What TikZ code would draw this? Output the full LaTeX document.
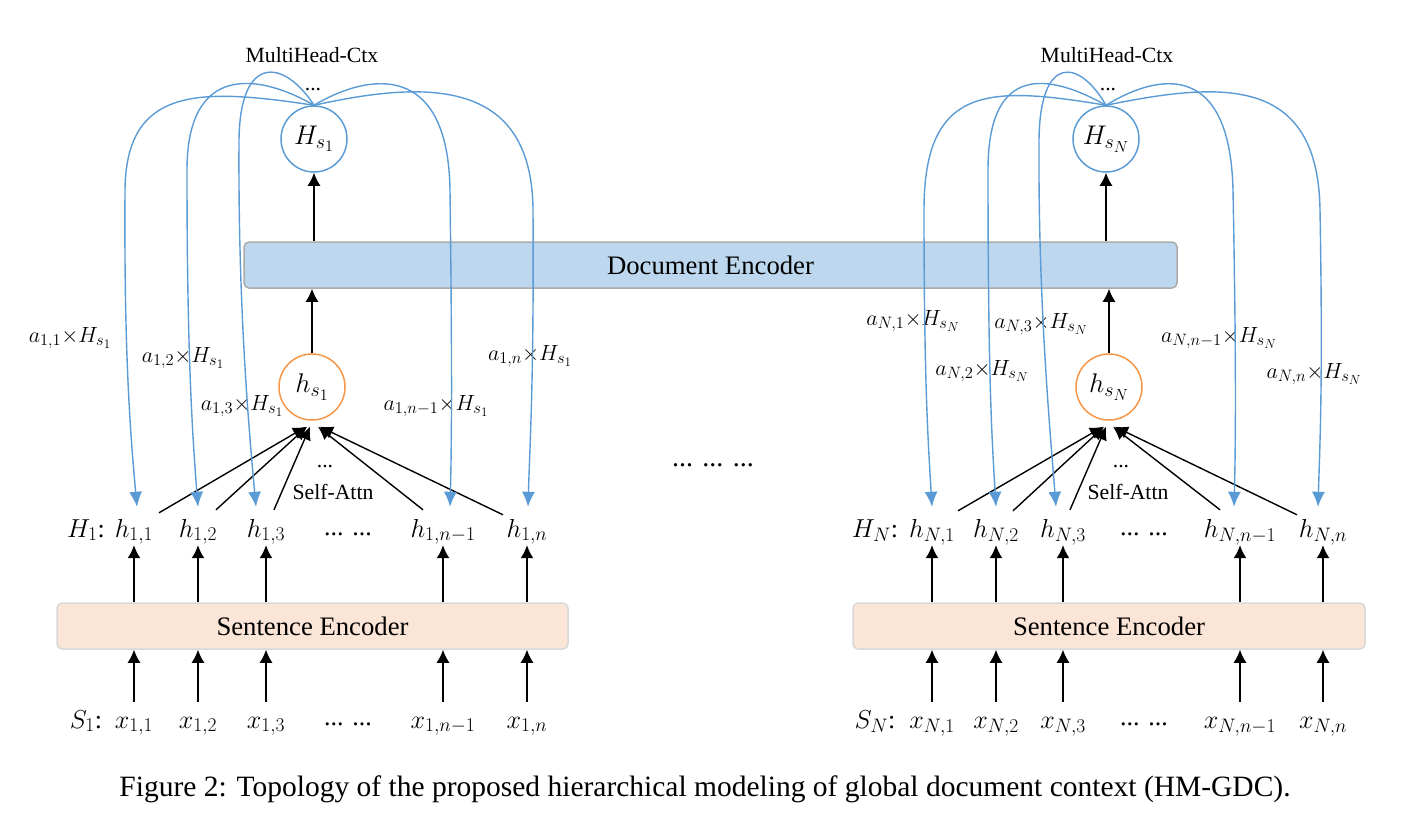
\documentclass[tikz,border=0pt]{standalone}
\usepackage{fix-cm}
\usepackage{fontspec}
\setmainfont{Liberation Serif}
\usetikzlibrary{arrows.meta,calc}
\DeclareMathSizes{26}{26}{19.5}{15}
\DeclareMathSizes{27}{27}{20}{16}
\DeclareMathSizes{22}{22}{16.5}{13}
\definecolor{curveblue}{HTML}{5B9BD5}
\definecolor{docfill}{HTML}{BDD7EE}
\definecolor{sentfill}{HTML}{FBE5D6}
\definecolor{hsorange}{HTML}{F79646}
\definecolor{boxgray}{HTML}{ABABAB}
\definecolor{boxlight}{HTML}{D9D9D9}
\tikzset{
  smalltxt/.style={inner sep=0pt, font=\rmfamily\fontsize{21.7}{25}\selectfont},
  hlab/.style={inner sep=0pt, anchor=base, text height=18pt, text depth=8pt, font=\fontsize{26}{30}\selectfont},
  xlab/.style={inner sep=0pt, anchor=base, text height=26pt, text depth=8pt, font=\fontsize{26}{30}\selectfont},
  alab/.style={inner sep=0pt, anchor=base, font=\fontsize{22}{26}\selectfont},
  dotlab/.style={inner sep=0pt, anchor=base, font=\rmfamily\fontsize{26}{30}\selectfont},
  blkarrow/.style={-{Latex[length=13pt,width=13pt]}, line width=1.4pt, black},
  bluearrow/.style={-{Latex[length=15pt,width=13pt]}, line width=1.4pt, curveblue},
  encbox/.style={rounded corners=5pt, line width=1.5pt, minimum height=46pt, inner sep=0pt,
                 font=\rmfamily\fontsize{26.7}{30}\selectfont},
  bigcirc/.style={circle, minimum size=66pt, inner sep=0pt, line width=1.5pt,
                  font=\fontsize{27}{30}\selectfont}
}
\begin{document}
\begin{tikzpicture}[x=1pt,y=-1pt]
\useasboundingbox (0,0) rectangle (1411,820);

% ---------------- boxes ----------------
\node[encbox, draw=boxgray, fill=docfill, minimum width=933pt] (doc) at (710.5,265) {Document Encoder};
\node[encbox, draw=boxlight, fill=sentfill, minimum width=511pt] (sentL) at (312.5,626) {Sentence Encoder};
\node[encbox, draw=boxlight, fill=sentfill, minimum width=512pt] (sentR) at (1109,626) {Sentence Encoder};

% ---------------- circles ----------------
\node[bigcirc, draw=curveblue] (Hs1) at (314,139) {$H_{s_1}$};
\node[bigcirc, draw=hsorange] (hs1) at (312,387) {$h_{s_1}$};
\node[bigcirc, draw=curveblue] (HsN) at (1106,139) {$H_{s_N}$};
\node[bigcirc, draw=hsorange] (hsN) at (1109,387) {$h_{s_N}$};

% ---------------- top labels ----------------
\node[smalltxt] (mhL) at (312,55) {MultiHead-Ctx};
\node[smalltxt, anchor=base] (mhdL) at (313,90) {...};
\node[smalltxt] (mhR) at (1107,55) {MultiHead-Ctx};
\node[smalltxt, anchor=base] (mhdR) at (1108,90) {...};

% ---------------- left rows ----------------
\node[hlab] (HL) at (86,537) {$H_1$:};
\node[hlab] (h11) at (134,537) {$h_{1,1}$};
\node[hlab] (h12) at (198,537) {$h_{1,2}$};
\node[hlab] (h13) at (266,537) {$h_{1,3}$};
\node[dotlab] (hdL) at (348,535) {... ...};
\node[hlab] (h1n1) at (443,537) {$h_{1,n-1}$};
\node[hlab] (h1n) at (527,537) {$h_{1,n}$};

\node[xlab] (SL) at (86,728) {$S_1$:};
\node[xlab] (x11) at (134,728) {$x_{1,1}$};
\node[xlab] (x12) at (198,728) {$x_{1,2}$};
\node[xlab] (x13) at (266,728) {$x_{1,3}$};
\node[dotlab] (xdL) at (348,725) {... ...};
\node[xlab] (x1n1) at (443,728) {$x_{1,n-1}$};
\node[xlab] (x1n) at (527,728) {$x_{1,n}$};

% ---------------- right rows ----------------
\node[hlab] (HR) at (875,537) {$H_N$:};
\node[hlab] (hN1) at (932,537) {$h_{N,1}$};
\node[hlab] (hN2) at (996,537) {$h_{N,2}$};
\node[hlab] (hN3) at (1063,537) {$h_{N,3}$};
\node[dotlab] (hdR) at (1144,535) {... ...};
\node[hlab] (hNn1) at (1240,537) {$h_{N,n-1}$};
\node[hlab] (hNn) at (1323,537) {$h_{N,n}$};

\node[xlab] (SR) at (875,728) {$S_N$:};
\node[xlab] (xN1) at (932,728) {$x_{N,1}$};
\node[xlab] (xN2) at (996,728) {$x_{N,2}$};
\node[xlab] (xN3) at (1063,728) {$x_{N,3}$};
\node[dotlab] (xdR) at (1144,725) {... ...};
\node[xlab] (xNn1) at (1240,728) {$x_{N,n-1}$};
\node[xlab] (xNn) at (1323,728) {$x_{N,n}$};

% ---------------- self-attn labels ----------------
\node[smalltxt] (saL) at (333,492) {Self-Attn};
\node[smalltxt, anchor=base] (sadL) at (325,467) {...};
\node[smalltxt] (saR) at (1128,492) {Self-Attn};
\node[smalltxt, anchor=base] (sadR) at (1121,467) {...};

\node[dotlab, font=\rmfamily\fontsize{28}{30}\selectfont] (middots) at (713,466) {... ... ...};

% ---------------- weight labels ----------------
\node[alab] (a11) at (70,342) {$a_{1,1}{\times} H_{s_1}$};
\node[alab] (a12) at (183,362) {$a_{1,2}{\times} H_{s_1}$};
\node[alab] (a13) at (242,410) {$a_{1,3}{\times} H_{s_1}$};
\node[alab] (a1n1) at (436,410) {$a_{1,n-1}{\times} H_{s_1}$};
\node[alab] (a1n) at (530,360) {$a_{1,n}{\times} H_{s_1}$};

\node[alab] (aN1) at (913,325) {$a_{N,1}{\times} H_{s_N}$};
\node[alab] (aN3) at (1041,328) {$a_{N,3}{\times} H_{s_N}$};
\node[alab] (aN2) at (982,375) {$a_{N,2}{\times} H_{s_N}$};
\node[alab] (aNn1) at (1219,342) {$a_{N,n-1}{\times} H_{s_N}$};
\node[alab] (aNn) at (1314,378) {$a_{N,n}{\times} H_{s_N}$};

% ---------------- caption ----------------
\node[inner sep=0pt, anchor=base, font=\rmfamily\fontsize{29.5}{32}\selectfont] (cap) at (705,796)
  {Figure 2: Topology of the proposed hierarchical modeling of global document context (HM-GDC).};

% ---------------- vertical arrows ----------------
\foreach \n in {11,12,13,1n1,1n} {
  \draw[blkarrow] (h\n |- sentL.north) -- (h\n.south);
  \draw[blkarrow] (x\n.north) -- (x\n |- sentL.south);
}
\foreach \n in {N1,N2,N3,Nn1,Nn} {
  \draw[blkarrow] (h\n |- sentR.north) -- (h\n.south);
  \draw[blkarrow] (x\n.north) -- (x\n |- sentR.south);
}
\draw[blkarrow] (hs1) -- (hs1 |- doc.south);
\draw[blkarrow] (Hs1 |- doc.north) -- (Hs1);
\draw[blkarrow] (hsN) -- (hsN |- doc.south);
\draw[blkarrow] (HsN |- doc.north) -- (HsN);

% ---------------- self-attention arrows ----------------
\draw[blkarrow] ($(h11.north)+(25,-6)$) -- ($(hs1.south)+(-6,6)$);
\draw[blkarrow] ($(h12.north)+(18,-9)$) -- ($(hs1.south)+(-5,6)$);
\draw[blkarrow] ($(h13.north)+(8,-9)$) -- ($(hs1.south)+(-2,6)$);
\draw[blkarrow] ($(h1n1.north)+(-20,-9)$) -- ($(hs1.south)+(6,6)$);
\draw[blkarrow] ($(h1n.north)+(-24,-4)$) -- ($(hs1.south)+(8,6)$);

\draw[blkarrow] ($(hN1.north)+(26,-8)$) -- ($(hsN.south)+(-6,6)$);
\draw[blkarrow] ($(hN2.north)+(17,-8)$) -- ($(hsN.south)+(-5,6)$);
\draw[blkarrow] ($(hN3.north)+(7,-9)$) -- ($(hsN.south)+(-3,6)$);
\draw[blkarrow] ($(hNn1.north)+(-20,-9)$) -- ($(hsN.south)+(4,6)$);
\draw[blkarrow] ($(hNn.north)+(-26,-4)$) -- ($(hsN.south)+(6,6)$);

% ---------------- multi-head context curves ----------------
\draw[bluearrow] (Hs1.north) .. controls (200,88) and (126,86) .. (125,190)
  .. controls (124,350) and (130,430) .. ($(h11.north)+(3,-12)$);
\draw[bluearrow] (Hs1.north) .. controls (260,74) and (187,62) .. (187,170)
  .. controls (187,350) and (192,430) .. ($(h12.north)+(0,-12)$);
\draw[bluearrow] (Hs1.north) .. controls (285,60) and (240,52) .. (239,140)
  .. controls (238,300) and (248,420) .. ($(h13.north)+(-10,-12)$);
\draw[bluearrow] (Hs1.north) .. controls (370,72) and (448,62) .. (450,190)
  .. controls (452,350) and (452,430) .. ($(h1n1.north)+(7,-12)$);
\draw[bluearrow] (Hs1.north) .. controls (420,82) and (532,74) .. (533,210)
  .. controls (534,380) and (530,440) .. ($(h1n.north)+(1,-12)$);

\draw[bluearrow] (HsN.north) .. controls (990,86) and (924,84) .. (924,210)
  .. controls (924,380) and (928,440) .. ($(hN1.north)+(0,-12)$);
\draw[bluearrow] (HsN.north) .. controls (1050,74) and (988,62) .. (988,170)
  .. controls (988,380) and (992,440) .. ($(hN2.north)+(0,-12)$);
\draw[bluearrow] (HsN.north) .. controls (1080,60) and (1040,52) .. (1039,140)
  .. controls (1038,300) and (1050,430) .. ($(hN3.north)+(-7,-12)$);
\draw[bluearrow] (HsN.north) .. controls (1160,72) and (1230,62) .. (1233,190)
  .. controls (1236,350) and (1236,430) .. ($(hNn1.north)+(-6,-12)$);
\draw[bluearrow] (HsN.north) .. controls (1220,82) and (1318,74) .. (1320,210)
  .. controls (1323,380) and (1320,440) .. ($(hNn.north)+(-5,-12)$);
\end{tikzpicture}
\end{document}
